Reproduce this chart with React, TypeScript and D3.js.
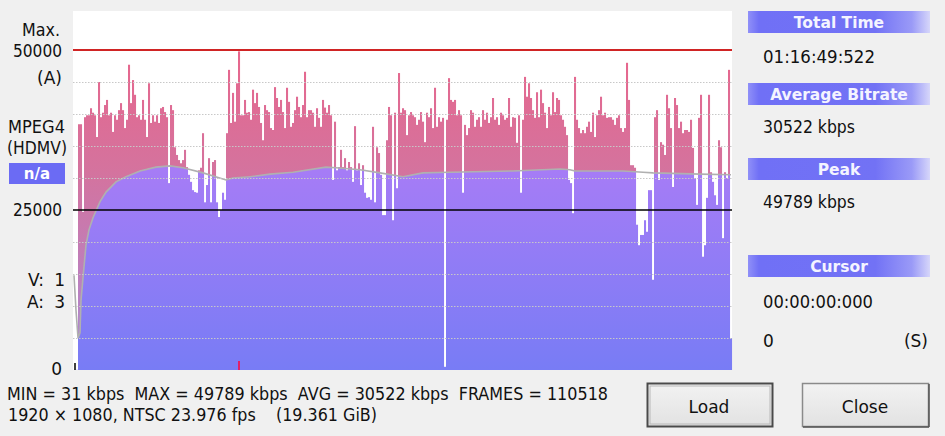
import React from "react";
import * as d3 from "d3";

// ---------- data ----------
const totalMinutes = 76.83; // 01:16:49:522
// bitrate per time slot (kbps), equally spaced over the whole duration
const bitrate: number[] = [
  31, 31, 38400, 38400, 24700, 39500, 39800, 39800, 40900, 40200,
  39800, 36400, 45000, 39500, 40200, 41400, 42200, 39800, 40200, 37200,
  39800, 39100, 40600, 41700, 40600, 37800, 39100, 47700, 41700, 45300,
  43000, 39500, 39800, 39100, 42200, 39100, 36400, 44800, 38600, 39800,
  38800, 39800, 38600, 40900, 41100, 40300, 39500, 29200, 41400, 40600,
  34800, 33600, 32800, 32300, 32800, 34400, 31700, 30500, 29400, 28100,
  27800, 27700, 31200, 31600, 37000, 26200, 28900, 33100, 26200, 32500,
  32800, 26200, 23900, 25000, 27700, 26600, 37000, 46900, 38600, 43300,
  38800, 44800, 49789, 39800, 39800, 42200, 40200, 40300, 39100, 43800,
  41700, 43300, 41100, 38600, 35900, 41400, 40600, 40300, 37800, 37500,
  44200, 42500, 41100, 42200, 40300, 37800, 44100, 41900, 38000, 38600,
  40600, 42700, 41100, 39500, 41400, 46600, 39500, 40600, 40600, 40200,
  38000, 40900, 39400, 38000, 42200, 41000, 40200, 41400, 39800, 29700,
  38800, 31200, 31700, 34400, 31700, 33100, 31200, 32500, 31700, 29400,
  38100, 31200, 32300, 28900, 32000, 27700, 26900, 27000, 26600, 38000,
  26200, 34800, 33900, 30500, 24200, 24200, 35900, 41100, 39800, 23400,
  40200, 28400, 46400, 40200, 40900, 40600, 36700, 39800, 40300, 39800,
  39500, 38300, 39100, 40300, 38800, 35600, 40200, 39500, 40900, 37800,
  44100, 38000, 39500, 38800, 39400, 500, 39100, 45600, 42200, 41900,
  42200, 39800, 40600, 39800, 27700, 38300, 36700, 37800, 40600, 40200,
  38000, 39100, 39500, 38000, 40600, 39100, 40200, 38600, 39500, 42500,
  39100, 39500, 38300, 40200, 39800, 39100, 39400, 42500, 38000, 39500,
  39400, 35500, 39800, 27700, 39100, 45800, 42700, 44800, 42500, 40600,
  39400, 43400, 39500, 43800, 41700, 40200, 37800, 41100, 39800, 43400,
  40300, 42500, 42200, 39800, 39100, 38000, 36700, 29700, 29200, 24500,
  45800, 39100, 37800, 37000, 37500, 37000, 38000, 38800, 37200, 40200,
  36400, 39800, 40600, 42700, 39800, 40200, 39400, 39500, 39500, 39100,
  38300, 39400, 39800, 37800, 37200, 37800, 48000, 42200, 32000, 32000,
  31600, 22700, 19500, 21100, 21100, 23400, 21600, 28100, 28100, 14100,
  39500, 40600, 29700, 35600, 35200, 33600, 43000, 40900, 37800, 28600,
  42500, 41400, 37800, 38800, 37000, 37500, 37500, 37200, 39100, 34700,
  30000, 25800, 39400, 43000, 17700, 19500, 26900, 43000, 30900, 29400,
  27300, 25800, 35900, 34800, 20600, 30900, 30000, 46900, 5000,
];
// running average curve: time (minutes) and rate (kbps)
const avgTime: number[] = [
  0, 0.23, 0.47, 0.7, 0.82, 1.05, 1.4, 1.75, 2.22, 3.04, 3.74, 4.9, 6.07,
  7.71, 9.57, 11.21, 12.73, 15.06, 17.75, 18.56, 20.55, 22.88, 25.57, 29.42,
  30.59, 33.39, 35.73, 38.41, 40.75, 43.9, 51.26, 56.75, 57.91, 58.5, 64.1,
  66.44, 67.6, 73.09, 76.71,
];
const avgRate: number[] = [
  14800, 9400, 5000, 5800, 10900, 14400, 19500, 21900, 23800, 26300, 27800,
  29400, 30200, 31100, 31700, 31900, 31600, 30800, 29700, 30000, 30200, 30600,
  30900, 31700, 31600, 31300, 30800, 30200, 30800, 30900, 31100, 31400, 31300,
  31100, 31100, 30900, 30800, 30600, 30500,
];
const gridValues: number[] = [5000, 10000, 15000, 20000, 30000, 35000, 40000, 45000];
const maxLine = 50000;
const midLine = 25000;

const statsLine1 = "MIN = 31 kbps  MAX = 49789 kbps  AVG = 30522 kbps  FRAMES = 110518";
const statsLine2 = "1920 \u00d7 1080, NTSC 23.976 fps    (19.361 GiB)";
const panels = [
  { title: "Total Time", value: "01:16:49:522" },
  { title: "Average Bitrate", value: "30522 kbps" },
  { title: "Peak", value: "49789 kbps" },
];

// ---------- layout ----------
const W = 945, H = 436;
const plotL = 73, plotR = 732, plotT = 11, plotB = 370;
const FONT = "'DejaVu Sans', Verdana, sans-serif";

export default function App() {
  const x = d3.scaleLinear().domain([0, totalMinutes]).range([74, 732]);
  const y = d3.scaleLinear().domain([0, 50000]).range([plotB, 50]);
  const dt = totalMinutes / bitrate.length;
  const bw = x(dt) - x(0);

  const avgPts = avgTime.map((t, i) => [t, avgRate[i]] as [number, number]);
  const line = d3.line<[number, number]>().x((d) => x(d[0])).y((d) => y(d[1]));
  const above = d3
    .area<[number, number]>()
    .x((d) => x(d[0]))
    .y0(plotT)
    .y1((d) => y(d[1]));
  const below = d3
    .area<[number, number]>()
    .x((d) => x(d[0]))
    .y0((d) => y(d[1]))
    .y1(plotB);
  const ext: [number, number][] = [[-1, avgRate[0]], ...avgPts, [totalMinutes + 1, avgRate[avgRate.length - 1]]];

  const peakIdx = d3.maxIndex(bitrate);

  const bars = (fill: string) =>
    bitrate.map((v, i) => (
      <rect key={i} x={x(i * dt)} width={bw + 0.05} y={y(v)} height={plotB - y(v)} fill={fill} />
    ));

  const headerY = [11, 83, 158];
  const valueY = [63, 133, 208];
  const pre = { whiteSpace: "pre" } as React.CSSProperties;

  return (
    <svg width={W} height={H} style={{ position: "absolute", left: 0, top: 0 }} fontFamily={FONT}>
      <defs>
        <linearGradient id="pink" gradientUnits="userSpaceOnUse" x1="0" y1="50" x2="0" y2="370">
          <stop offset="0" stopColor="#e8668c" />
          <stop offset="0.38" stopColor="#d4739e" />
          <stop offset="1" stopColor="#a98ad8" />
        </linearGradient>
        <linearGradient id="purp" gradientUnits="userSpaceOnUse" x1="0" y1="160" x2="0" y2="370">
          <stop offset="0" stopColor="#a87cf6" />
          <stop offset="1" stopColor="#787cf5" />
        </linearGradient>
        <linearGradient id="hdr" x1="0" y1="0" x2="1" y2="0">
          <stop offset="0" stopColor="#9090f8" />
          <stop offset="0.06" stopColor="#7070f6" />
          <stop offset="0.7" stopColor="#7272f5" />
          <stop offset="0.9" stopColor="#9a9af7" />
          <stop offset="1" stopColor="#d6d6fa" />
        </linearGradient>
        <clipPath id="clipAbove">
          <path d={above(ext) || ""} />
        </clipPath>
        <clipPath id="clipBelow">
          <path d={below(ext) || ""} />
        </clipPath>
        <linearGradient id="btn" x1="0" y1="0" x2="0" y2="1">
          <stop offset="0" stopColor="#f2f2f2" />
          <stop offset="1" stopColor="#e2e2e2" />
        </linearGradient>
      </defs>
      <rect x={0} y={0} width={W} height={H} fill="#f0f0f0" />
      <rect x={plotL} y={plotT} width={plotR - plotL} height={plotB - plotT} fill="#ffffff" />

      <g clipPath="url(#clipAbove)">{bars("url(#pink)")}</g>
      <g clipPath="url(#clipBelow)">{bars("url(#purp)")}</g>

      <path d={line(avgPts) || ""} fill="none" stroke="#b0b0b0" strokeWidth={1.6} />

      {gridValues.map((g) => (
        <line key={g} x1={plotL} x2={plotR} y1={Math.round(y(g)) + 0.5} y2={Math.round(y(g)) + 0.5}
          stroke="#c8c8c8" strokeWidth={1} strokeDasharray="1.5 1.5" />
      ))}
      <line x1={plotL} x2={plotR} y1={y(maxLine)} y2={y(maxLine)} stroke="#d02424" strokeWidth={2} />
      <line x1={plotL} x2={plotR} y1={y(midLine)} y2={y(midLine)} stroke="#000000" strokeWidth={1.6} />

      {/* markers */}
      <line x1={x(0) + 1} x2={x(0) + 1} y1={plotB - 7} y2={plotB} stroke="#000" strokeWidth={1.5} />
      <line x1={x(peakIdx * dt) + bw / 2} x2={x(peakIdx * dt) + bw / 2} y1={plotB - 9} y2={plotB}
        stroke="#e0206a" strokeWidth={2} />

      {/* left labels */}
      <g fontSize={17} fill="#111">
        <text x={60} y={36} textAnchor="end" textLength={38} lengthAdjust="spacingAndGlyphs">Max.</text>
        <text x={62} y={57} textAnchor="end" textLength={49} lengthAdjust="spacingAndGlyphs">50000</text>
        <text x={62} y={84} textAnchor="end" textLength={25} lengthAdjust="spacingAndGlyphs">(A)</text>
        <text x={8} y={133} textLength={57} lengthAdjust="spacingAndGlyphs">MPEG4</text>
        <text x={7} y={154} textLength={60} lengthAdjust="spacingAndGlyphs">(HDMV)</text>
        <text x={62} y={216} textAnchor="end" textLength={49} lengthAdjust="spacingAndGlyphs">25000</text>
        <text x={28} y={286}>V:</text>
        <text x={65} y={286} textAnchor="end">1</text>
        <text x={27} y={308}>A:</text>
        <text x={65} y={308} textAnchor="end">3</text>
        <text x={62} y={375} textAnchor="end">0</text>
        <text x={7} y={400} style={pre} textLength={601} lengthAdjust="spacingAndGlyphs">{statsLine1}</text>
        <text x={8} y={421} style={pre} textLength={369} lengthAdjust="spacingAndGlyphs">{statsLine2}</text>
      </g>
      <rect x={9} y={163} width={56} height={21} fill="#6b6bf4" />
      <text x={37} y={179} textAnchor="middle" fontSize={15} fontWeight="bold" fill="#fff">n/a</text>

      {/* right panel */}
      {panels.map((p, i) => (
        <g key={p.title}>
          <rect x={748} y={headerY[i]} width={182} height={22} fill="url(#hdr)" />
          <text x={839} y={headerY[i] + 17} textAnchor="middle" fontSize={15.5} fontWeight="bold" fill="#f4f4ff">
            {p.title}
          </text>
          <text x={763} y={valueY[i]} fontSize={17} fill="#111"
            textLength={p.value.includes("kbps") ? 92 : 112} lengthAdjust="spacingAndGlyphs">{p.value}</text>
        </g>
      ))}
      <rect x={748} y={255} width={182} height={22} fill="url(#hdr)" />
      <text x={839} y={272} textAnchor="middle" fontSize={15.5} fontWeight="bold" fill="#f4f4ff">Cursor</text>
      <text x={763} y={308} fontSize={17} fill="#111" textLength={110} lengthAdjust="spacingAndGlyphs">00:00:00:000</text>
      <text x={763} y={347} fontSize={17} fill="#111">0</text>
      <text x={928} y={347} fontSize={17} fill="#111" textAnchor="end">(S)</text>

      {/* buttons */}
      <rect x={647.5} y={383.5} width={125} height={43} fill="url(#btn)" stroke="#4a4a4a" strokeWidth={2} />
      <rect x={650} y={386} width={120} height={38} fill="none" stroke="#b8b8b8" strokeWidth={1} />
      <text x={709} y={413} textAnchor="middle" fontSize={17} fill="#111">Load</text>
      <rect x={802.5} y={383.5} width={126} height={43} fill="url(#btn)" stroke="#8a8a8a" strokeWidth={1.5} />
      <line x1={929} y1={384} x2={929} y2={427} stroke="#555" strokeWidth={1.5} />
      <line x1={803} y1={427} x2={929} y2={427} stroke="#555" strokeWidth={1.5} />
      <text x={865} y={413} textAnchor="middle" fontSize={17} fill="#111">Close</text>
    </svg>
  );
}
